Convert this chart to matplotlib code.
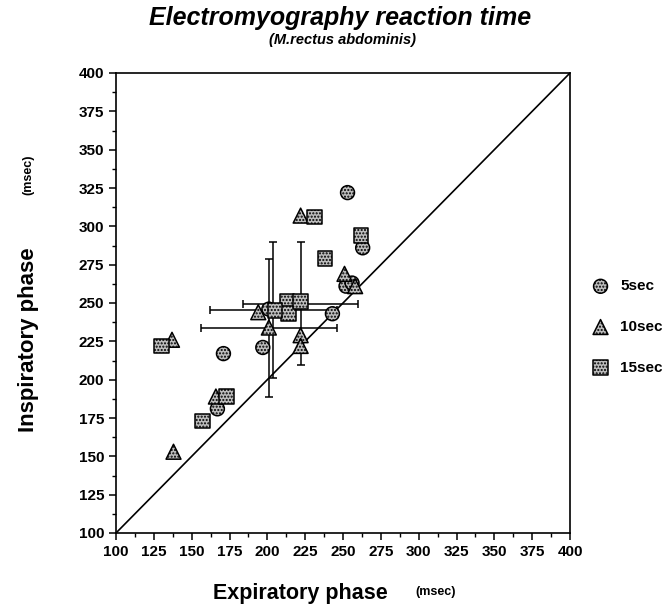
import matplotlib.pyplot as plt
from matplotlib.ticker import MultipleLocator

plt.rcParams['font.family'] = ['Liberation Sans', 'DejaVu Sans']

# individual points (expiratory, inspiratory) in msec
circle_x = [253, 263, 252, 256, 243, 171, 197, 167, 201]
circle_y = [322, 286, 261, 263, 243, 217, 221, 181, 246]

triangle_x = [222, 251, 258, 137, 194, 201, 222, 222, 166, 138]
triangle_y = [307, 269, 261, 226, 244, 234, 229, 222, 189, 153]

square_x = [231, 262, 238, 130, 173, 157, 213, 214, 222, 205]
square_y = [306, 294, 279, 222, 189, 173, 251, 243, 251, 245]

# mean +/- SD bars
mean_x = [204, 201, 222]
mean_y = [245.5, 234, 249.5]
sd_x = [42, 45, 38]
sd_y = [44.5, 45, 40]

series_labels = ['5sec', '10sec', '15sec']
ticks = list(range(100, 425, 25))

fig = plt.figure(figsize=(6.72, 6.09), dpi=100)
ax = fig.add_axes([116 / 672, 76 / 609, 454 / 672, 460 / 609])

ax.plot([100, 400], [100, 400], color='black', lw=1.2, zorder=1)
ax.errorbar(mean_x, mean_y, xerr=sd_x, yerr=sd_y, fmt='none', ecolor='black',
            elinewidth=1.1, capsize=3, capthick=1.1, zorder=2)

style = dict(facecolor='#bdbdbd', edgecolor='black', linewidths=1.1, hatch='.....', zorder=3)
h1 = ax.scatter(circle_x, circle_y, marker='o', s=100, **style)
h2 = ax.scatter(triangle_x, triangle_y, marker='^', s=115, **style)
h3 = ax.scatter(square_x, square_y, marker='s', s=110, **style)

ax.set_xlim(100, 400)
ax.set_ylim(100, 400)
ax.set_xticks(ticks)
ax.set_yticks(ticks)
ax.xaxis.set_minor_locator(MultipleLocator(12.5))
ax.yaxis.set_minor_locator(MultipleLocator(12.5))
ax.tick_params(which='major', direction='out', length=5, width=1.1, labelsize=11)
ax.tick_params(which='minor', direction='out', length=3, width=1)
for lab in ax.get_xticklabels() + ax.get_yticklabels():
    lab.set_fontweight('bold')
for sp in ax.spines.values():
    sp.set_linewidth(1.2)

fig.text(0.506, 0.971, 'Electromyography reaction time', ha='center', va='center',
         fontsize=18, fontweight='bold', fontstyle='italic')
fig.text(0.51, 0.934, '(M.rectus abdominis)', ha='center', va='center',
         fontsize=10.5, fontweight='bold', fontstyle='italic')

fig.text(0.447, 0.026, 'Expiratory phase', ha='center', va='center',
         fontsize=15.5, fontweight='bold')
fig.text(0.648, 0.028, '(msec)', ha='center', va='center',
         fontsize=9, fontweight='bold')
fig.text(0.042, 0.442, 'Inspiratory phase', ha='center', va='center', rotation=90,
         fontsize=16, fontweight='bold')
fig.text(0.042, 0.713, '(msec)', ha='center', va='center', rotation=90,
         fontsize=9, fontweight='bold')

leg = fig.legend([h1, h2, h3], series_labels, loc='center left',
                 bbox_to_anchor=(0.855, 0.463), frameon=False, labelspacing=1.75,
                 handletextpad=0.3, borderpad=0.2,
                 prop={'weight': 'bold', 'size': 11})

fig.savefig('out.png', dpi=100)
